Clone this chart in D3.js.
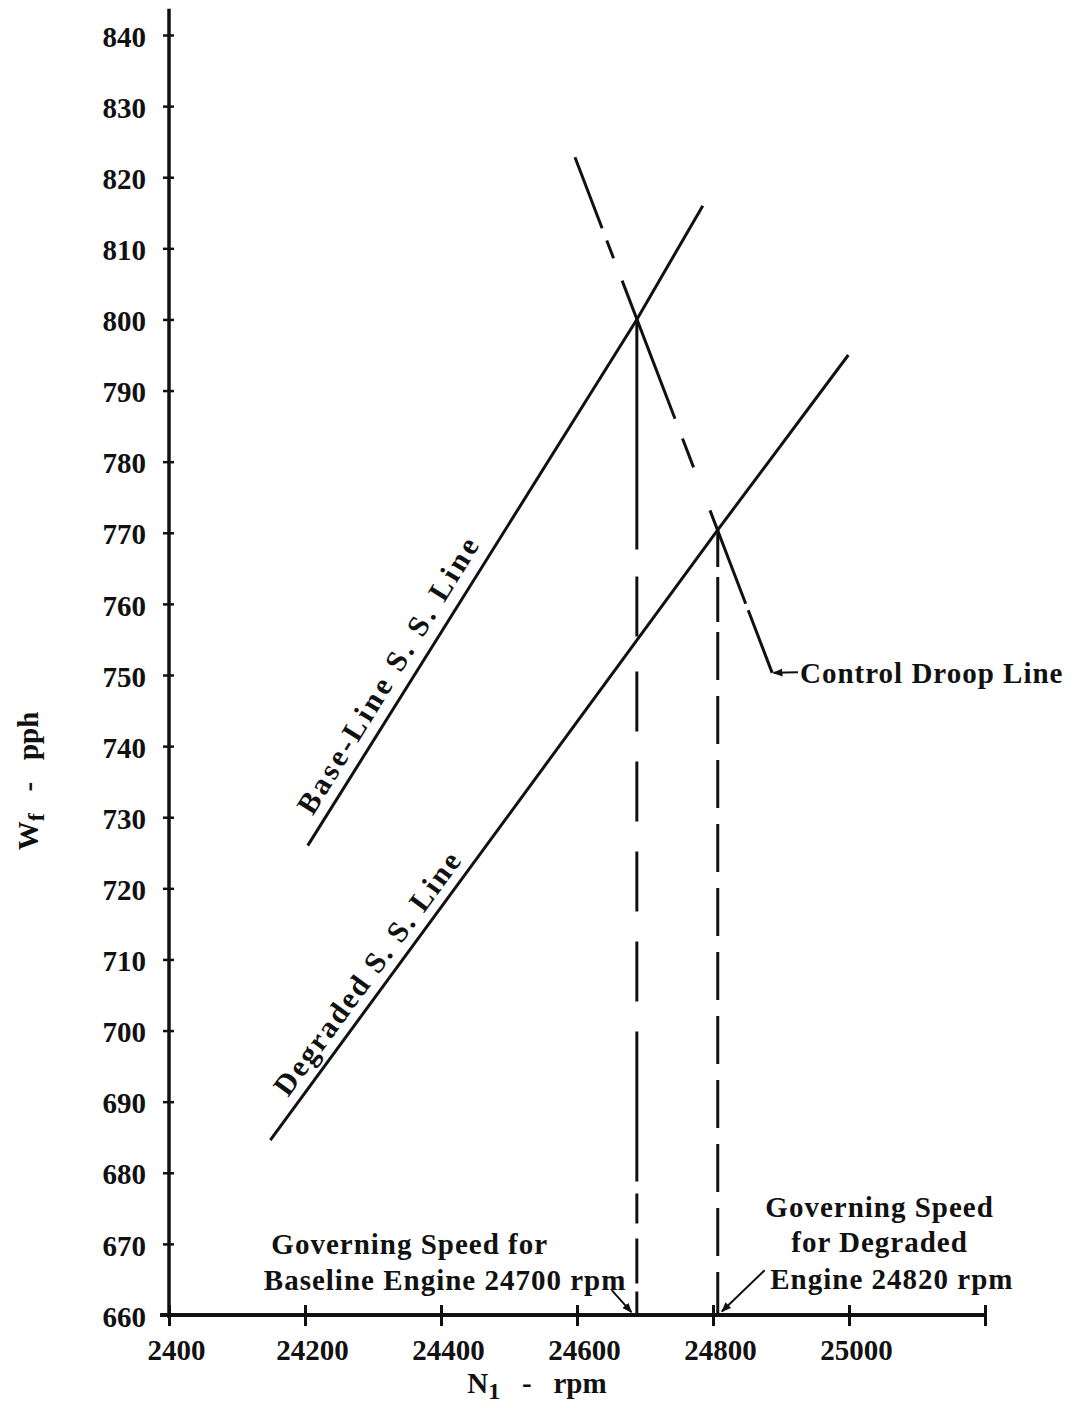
<!DOCTYPE html>
<html>
<head>
<meta charset="utf-8">
<script src="https://cdn.jsdelivr.net/npm/d3@7"></script>
<style>
  body { margin: 0; background: #fff; }
  text { font-family: "Liberation Serif", "Times New Roman", serif; font-weight: bold; fill: #111; }
</style>
</head>
<body>
<div id="chart"></div>
<script>
// axis ticks
const xTicks = [24000, 24200, 24400, 24600, 24800, 25000, 25200];
const xTickLabels = ["2400", "24200", "24400", "24600", "24800", "25000", ""];
const yTicks = [660, 670, 680, 690, 700, 710, 720, 730, 740, 750, 760, 770, 780, 790, 800, 810, 820, 830, 840];
const yTickLabels = ["660", "670", "680", "690", "700", "710", "720", "730", "740", "750", "760", "770", "780", "790", "800", "810", "820", "830", "840"];

// lines [N1 rpm, Wf pph]
const baseLine = [[24204, 726], [24688, 800], [24785, 816]];
const degradedLine = [[24149, 684.6], [24807, 770.4], [24999, 795]];
const droopLine = [[24597, 822.8], [24887, 750.3]];
const governSpeeds = [24688, 24807];
const governTops = [800, 770.4];

// labels along the lines
const lineLabels = ["Base-Line S. S. Line", "Degraded S. S. Line"];
const lineLabelAt = [[24225, 729.3], [24188, 689.6]];

// annotations
const noteLeft = ["Governing Speed for", "Baseline Engine 24700 rpm"];
const noteLeftAt = [[24354, 668.6], [24406, 663.5]];
const noteRight = ["Governing Speed", "for Degraded", "Engine 24820 rpm"];
const noteRightAt = [[25045, 673.8], [25045, 668.9], [25063, 663.7]];
const arrows = [
  [[24651, 663.5], [24680, 660.4]],
  [[24876, 666.3], [24813, 660.5]],
  [[24925, 750.4], [24889, 750.3]]
];
const droopLabel = "Control Droop Line";
const droopLabelAt = [24928, 748.9];

const width = 1073, height = 1408;
const x = d3.scaleLinear().domain([24000, 25200]).range([169, 985]);
const y = d3.scaleLinear().domain([660, 840]).range([1315, 35]);

const svg = d3.select("#chart").append("svg")
  .attr("width", width)
  .attr("height", height);

svg.append("defs").append("marker")
  .attr("id", "arrow")
  .attr("viewBox", "0 0 10 10")
  .attr("refX", 9).attr("refY", 5)
  .attr("markerWidth", 5).attr("markerHeight", 5)
  .attr("orient", "auto")
  .append("path")
  .attr("d", "M0,1 L10,5 L0,9 Z")
  .attr("fill", "#111");

// axis lines
svg.append("line")
  .attr("x1", x(24000)).attr("x2", x(24000))
  .attr("y1", y(660) + 3).attr("y2", y(843.7))
  .attr("stroke", "#111").attr("stroke-width", 3.5);
svg.append("line")
  .attr("x1", x(24000) - 9).attr("x2", x(25200))
  .attr("y1", y(660)).attr("y2", y(660))
  .attr("stroke", "#111").attr("stroke-width", 4);

// y axis
const yAxis = svg.append("g")
  .attr("transform", `translate(${x(24000)},0)`)
  .call(d3.axisLeft(y).tickValues(yTicks).tickFormat((d, i) => yTickLabels[i]).tickSize(6));
yAxis.select(".domain").remove();
yAxis.selectAll(".tick line").attr("x1", 5).attr("x2", -6).attr("stroke", "#111").attr("stroke-width", 2.5);
yAxis.selectAll(".tick text")
  .attr("x", -23).attr("y", 1).attr("dy", "0.35em")
  .style("font-size", "29px");
yAxis.attr("font-family", null).attr("font-size", null);

// x axis
const xAxis = svg.append("g")
  .attr("transform", `translate(0,${y(660)})`)
  .call(d3.axisBottom(x).tickValues(xTicks).tickFormat((d, i) => xTickLabels[i]).tickSize(9));
xAxis.select(".domain").remove();
xAxis.selectAll(".tick line").attr("y1", -10).attr("y2", 11).attr("stroke", "#111").attr("stroke-width", 3);
xAxis.selectAll(".tick text")
  .attr("y", 24).attr("dx", 7).attr("dy", "0.71em")
  .style("font-size", "29px");
xAxis.attr("font-family", null).attr("font-size", null);

const line = d3.line().x(d => x(d[0])).y(d => y(d[1]));

// steady state lines
[baseLine, degradedLine].forEach(pts => {
  svg.append("path")
    .attr("d", line(pts))
    .attr("fill", "none")
    .attr("stroke", "#111")
    .attr("stroke-width", 3);
});

// control droop line (broken)
svg.append("path")
  .attr("d", line(droopLine))
  .attr("fill", "none")
  .attr("stroke", "#111")
  .attr("stroke-width", 3)
  .attr("stroke-dasharray", "76,13,19,24,148,21,31,46,100,7,70");

// governing speed verticals
const dashes = ["230,27,60,35,60,30,60,30,60,30,60,30,150,12,30,15,45,8,200", "37,10,45,10,48,16,48,16,48,16,48,16,48,16,48,16,48,16,48,16,48,16,48,16,60,14,60,20,40"];
governSpeeds.forEach((g, i) => {
  svg.append("line")
    .attr("x1", x(g)).attr("x2", x(g))
    .attr("y1", y(governTops[i])).attr("y2", y(660))
    .attr("stroke", "#111")
    .attr("stroke-width", 3)
    .attr("stroke-dasharray", dashes[i]);
});

// labels along lines
[baseLine, degradedLine].forEach((pts, i) => {
  const p1 = pts[0], p2 = pts[pts.length - 1];
  const ang = Math.atan2(y(p2[1]) - y(p1[1]), x(p2[0]) - x(p1[0])) * 180 / Math.PI;
  svg.append("text")
    .attr("transform", `translate(${x(lineLabelAt[i][0])},${y(lineLabelAt[i][1])}) rotate(${ang})`)
    .attr("dy", -11)
    .style("font-size", "30px")
    .style("letter-spacing", i === 0 ? "3.2px" : "2.2px")
    .style("white-space", "pre")
    .text(lineLabels[i]);
});

// arrows
arrows.forEach(a => {
  svg.append("line")
    .attr("x1", x(a[0][0])).attr("y1", y(a[0][1]))
    .attr("x2", x(a[1][0])).attr("y2", y(a[1][1]))
    .attr("stroke", "#111")
    .attr("stroke-width", 2)
    .attr("marker-end", "url(#arrow)");
});

// annotation text
noteLeft.forEach((t, i) => {
  svg.append("text")
    .attr("x", x(noteLeftAt[i][0])).attr("y", y(noteLeftAt[i][1]))
    .attr("text-anchor", "middle")
    .style("font-size", "29px").style("letter-spacing", "1px")
    .text(t);
});
noteRight.forEach((t, i) => {
  svg.append("text")
    .attr("x", x(noteRightAt[i][0])).attr("y", y(noteRightAt[i][1]))
    .attr("text-anchor", "middle")
    .style("font-size", "29px").style("letter-spacing", "1px")
    .text(t);
});
svg.append("text")
  .attr("x", x(droopLabelAt[0])).attr("y", y(droopLabelAt[1]))
  .style("font-size", "29px").style("letter-spacing", "1px")
  .text(droopLabel);

// axis titles
const xt = svg.append("text")
  .attr("x", 537).attr("y", 1393)
  .attr("text-anchor", "middle")
  .style("font-size", "29px")
  .style("white-space", "pre");
xt.append("tspan").text("N");
xt.append("tspan").attr("dy", 6).style("font-size", "24px").text("1");
xt.append("tspan").attr("dy", -6).text("   -   rpm");

const yt = svg.append("text")
  .attr("transform", "translate(38,781) rotate(-90)")
  .attr("text-anchor", "middle")
  .style("font-size", "29px")
  .style("white-space", "pre");
yt.append("tspan").text("W");
yt.append("tspan").attr("dy", 6).style("font-size", "24px").text("f");
yt.append("tspan").attr("dy", -6).text("   -   pph");
</script>
</body>
</html>
